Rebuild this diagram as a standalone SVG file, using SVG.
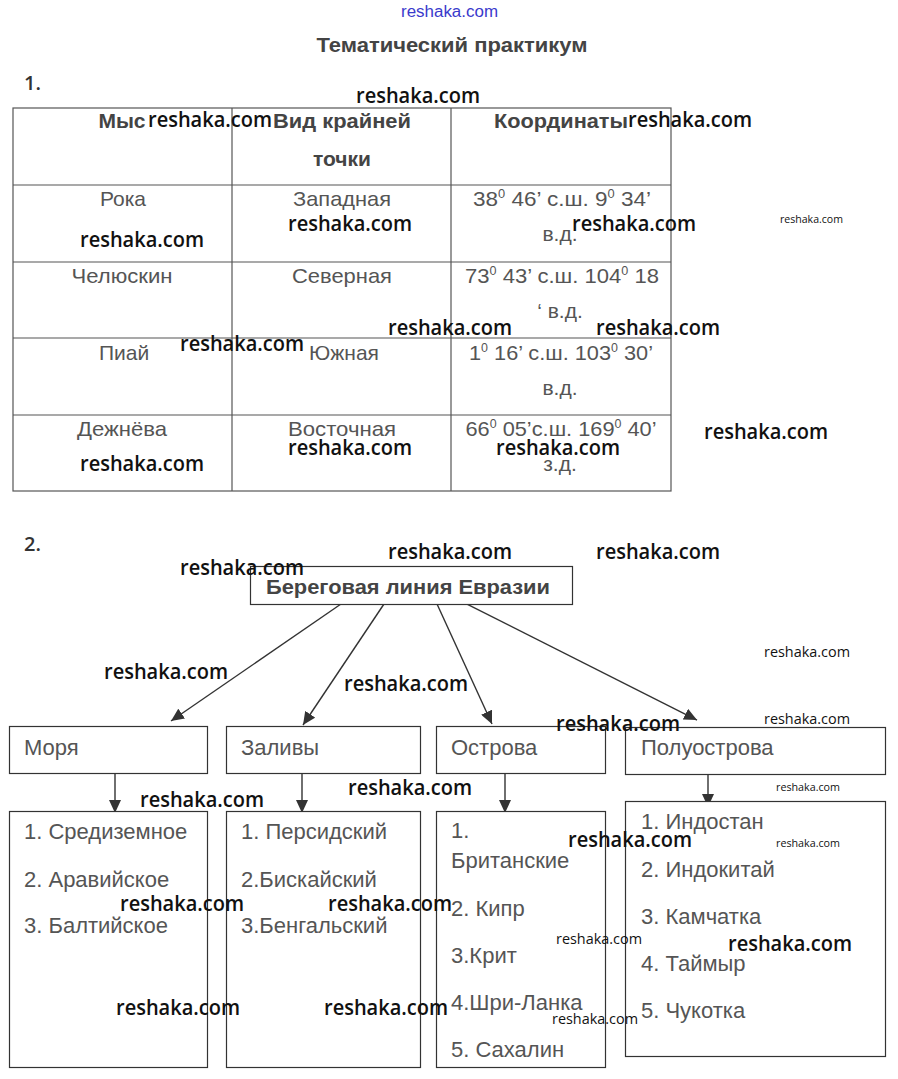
<svg xmlns="http://www.w3.org/2000/svg" width="898" height="1079" viewBox="0 0 898 1079">
<defs>
<marker id="ah" markerUnits="userSpaceOnUse" markerWidth="14" markerHeight="12" refX="13" refY="6" orient="auto">
<path d="M0,0 L13,6 L0,12 Z" fill="#333"/>
</marker>
<style>
.t{font-family:"Liberation Sans",Arial,sans-serif;font-size:21px;fill:#555}
.th{font-family:"Liberation Sans",Arial,sans-serif;font-size:21px;font-weight:bold;fill:#444}
.c{text-anchor:middle}
.sup{font-size:12px}
.d{font-family:"Liberation Sans",Arial,sans-serif;font-size:22px;fill:#555}
.box{fill:#fff;stroke:#333;stroke-width:1.2}
.grid{stroke:#555;stroke-width:1.2;fill:none}
.con{stroke:#333;stroke-width:1.4;fill:none;marker-end:url(#ah)}
.w{font-family:"Open Sans","Noto Sans",sans-serif;font-size:21px;font-weight:600;fill:#111}
.ws{font-family:"Open Sans","Noto Sans",sans-serif;font-size:14px;font-weight:500;fill:#111}
.wx{font-family:"Open Sans","Noto Sans",sans-serif;font-size:11px;font-weight:500;fill:#111}
.num{font-family:"Open Sans","Noto Sans",sans-serif;font-size:20px;font-weight:600;fill:#333}
</style>
</defs>
<rect width="898" height="1079" fill="#fff"/>

<text x="401" y="17" font-family="Liberation Sans,Arial,sans-serif" font-size="16" fill="#3a3acc" textLength="97" lengthAdjust="spacingAndGlyphs">reshaka.com</text>
<text x="452" y="52" class="th c" fill="#333" textLength="271" lengthAdjust="spacingAndGlyphs">Тематический практикум</text>
<text x="24" y="90" class="num">1.</text>

<!-- table -->
<g id="table">
<rect x="13" y="108" width="658" height="383" class="grid"/>
<line x1="232" y1="108" x2="232" y2="491" class="grid"/>
<line x1="451" y1="108" x2="451" y2="491" class="grid"/>
<line x1="13" y1="185" x2="671" y2="185" class="grid"/>
<line x1="13" y1="262" x2="671" y2="262" class="grid"/>
<line x1="13" y1="338" x2="671" y2="338" class="grid"/>
<line x1="13" y1="415" x2="671" y2="415" class="grid"/>

<text x="122" y="128" class="th c">Мыс</text>
<text x="342" y="128" class="th c" textLength="138" lengthAdjust="spacingAndGlyphs">Вид крайней</text>
<text x="342" y="166" class="th c">точки</text>
<text x="561" y="128" class="th c" textLength="134" lengthAdjust="spacingAndGlyphs">Координаты</text>

<text x="123" y="206" class="t c">Рока</text>
<text x="342" y="206" class="t c" textLength="98" lengthAdjust="spacingAndGlyphs">Западная</text>
<text x="562" y="206" class="t c" textLength="178" lengthAdjust="spacingAndGlyphs">38<tspan class="sup" dy="-8">0</tspan><tspan dy="8"> 46’ с.ш. 9</tspan><tspan class="sup" dy="-8">0</tspan><tspan dy="8"> 34’</tspan></text>
<text x="560" y="241" class="t c">в.д.</text>

<text x="122" y="283" class="t c" textLength="101" lengthAdjust="spacingAndGlyphs">Челюскин</text>
<text x="342" y="283" class="t c" textLength="100" lengthAdjust="spacingAndGlyphs">Северная</text>
<text x="562" y="283" class="t c" textLength="194" lengthAdjust="spacingAndGlyphs">73<tspan class="sup" dy="-8">0</tspan><tspan dy="8"> 43’ с.ш. 104</tspan><tspan class="sup" dy="-8">0</tspan><tspan dy="8"> 18</tspan></text>
<text x="560" y="318" class="t c">‘ в.д.</text>

<text x="124" y="360" class="t c">Пиай</text>
<text x="344" y="360" class="t c">Южная</text>
<text x="561" y="360" class="t c" textLength="184" lengthAdjust="spacingAndGlyphs">1<tspan class="sup" dy="-8">0</tspan><tspan dy="8"> 16’ с.ш. 103</tspan><tspan class="sup" dy="-8">0</tspan><tspan dy="8"> 30’</tspan></text>
<text x="560" y="395" class="t c">в.д.</text>

<text x="122" y="436" class="t c" textLength="90" lengthAdjust="spacingAndGlyphs">Дежнёва</text>
<text x="342" y="436" class="t c" textLength="108" lengthAdjust="spacingAndGlyphs">Восточная</text>
<text x="561" y="436" class="t c" textLength="191" lengthAdjust="spacingAndGlyphs">66<tspan class="sup" dy="-8">0</tspan><tspan dy="8"> 05’с.ш. 169</tspan><tspan class="sup" dy="-8">0</tspan><tspan dy="8"> 40’</tspan></text>
<text x="560" y="471" class="t c">з.д.</text>
</g>

<text x="24" y="551" class="num">2.</text>

<!-- connectors -->
<g id="connectors">
<line x1="341" y1="604" x2="171" y2="721" class="con"/>
<line x1="384" y1="604" x2="303" y2="725" class="con"/>
<line x1="437" y1="604" x2="492" y2="724" class="con"/>
<line x1="467" y1="604" x2="697" y2="720" class="con"/>
<line x1="115" y1="773" x2="115" y2="813" class="con"/>
<line x1="302" y1="773" x2="302" y2="813" class="con"/>
<line x1="505" y1="773" x2="505" y2="813" class="con"/>
<line x1="708" y1="774" x2="708" y2="807" class="con"/>
</g>

<g id="root">
<rect x="250.5" y="566.5" width="322" height="38" class="box"/>
<text x="408" y="594" class="th c" textLength="284" lengthAdjust="spacingAndGlyphs">Береговая линия Евразии</text>
</g>

<g id="seas">
<rect x="9.5" y="726.5" width="198" height="47" class="box"/>
<text x="24" y="755" class="d">Моря</text>
</g>
<g id="gulfs">
<rect x="226.5" y="726.5" width="194" height="47" class="box"/>
<text x="241" y="755" class="d">Заливы</text>
</g>
<g id="islands">
<rect x="436.5" y="726.5" width="169" height="47" class="box"/>
<text x="451" y="755" class="d">Острова</text>
</g>
<g id="peninsulas">
<rect x="625.5" y="727.5" width="260" height="47" class="box"/>
<text x="641" y="755" class="d">Полуострова</text>
</g>

<g id="seas-list">
<rect x="9.5" y="811.5" width="198" height="256" class="box"/>
<text x="24" y="839" class="d">1. Средиземное</text>
<text x="24" y="887" class="d">2. Аравийское</text>
<text x="24" y="933" class="d">3. Балтийское</text>
</g>
<g id="gulfs-list">
<rect x="226.5" y="811.5" width="194" height="256" class="box"/>
<text x="241" y="839" class="d">1. Персидский</text>
<text x="241" y="887" class="d">2.Бискайский</text>
<text x="241" y="933" class="d">3.Бенгальский</text>
</g>
<g id="islands-list">
<rect x="436.5" y="811.5" width="169" height="256" class="box"/>
<text x="451" y="838" class="d">1.</text>
<text x="451" y="868" class="d">Британские</text>
<text x="451" y="916" class="d">2. Кипр</text>
<text x="451" y="963" class="d">3.Крит</text>
<text x="451" y="1010" class="d">4.Шри-Ланка</text>
<text x="451" y="1057" class="d">5. Сахалин</text>
</g>
<g id="peninsulas-list">
<rect x="625.5" y="801.5" width="260" height="255" class="box"/>
<text x="641" y="829" class="d">1. Индостан</text>
<text x="641" y="877" class="d">2. Индокитай</text>
<text x="641" y="924" class="d">3. Камчатка</text>
<text x="641" y="971" class="d">4. Таймыр</text>
<text x="641" y="1018" class="d">5. Чукотка</text>
</g>

<!-- watermarks -->
<g id="watermarks">
<text x="356" y="103" class="w" textLength="124" lengthAdjust="spacingAndGlyphs">reshaka.com</text>
<text x="148" y="127" class="w" textLength="124" lengthAdjust="spacingAndGlyphs">reshaka.com</text>
<text x="628" y="127" class="w" textLength="124" lengthAdjust="spacingAndGlyphs">reshaka.com</text>
<text x="780" y="223" class="wx" textLength="63" lengthAdjust="spacingAndGlyphs">reshaka.com</text>
<text x="80" y="247" class="w" textLength="124" lengthAdjust="spacingAndGlyphs">reshaka.com</text>
<text x="288" y="231" class="w" textLength="124" lengthAdjust="spacingAndGlyphs">reshaka.com</text>
<text x="572" y="231" class="w" textLength="124" lengthAdjust="spacingAndGlyphs">reshaka.com</text>
<text x="388" y="335" class="w" textLength="124" lengthAdjust="spacingAndGlyphs">reshaka.com</text>
<text x="596" y="335" class="w" textLength="124" lengthAdjust="spacingAndGlyphs">reshaka.com</text>
<text x="180" y="351" class="w" textLength="124" lengthAdjust="spacingAndGlyphs">reshaka.com</text>
<text x="704" y="439" class="w" textLength="124" lengthAdjust="spacingAndGlyphs">reshaka.com</text>
<text x="80" y="471" class="w" textLength="124" lengthAdjust="spacingAndGlyphs">reshaka.com</text>
<text x="288" y="455" class="w" textLength="124" lengthAdjust="spacingAndGlyphs">reshaka.com</text>
<text x="496" y="455" class="w" textLength="124" lengthAdjust="spacingAndGlyphs">reshaka.com</text>
<text x="388" y="559" class="w" textLength="124" lengthAdjust="spacingAndGlyphs">reshaka.com</text>
<text x="596" y="559" class="w" textLength="124" lengthAdjust="spacingAndGlyphs">reshaka.com</text>
<text x="180" y="575" class="w" textLength="124" lengthAdjust="spacingAndGlyphs">reshaka.com</text>
<text x="104" y="679" class="w" textLength="124" lengthAdjust="spacingAndGlyphs">reshaka.com</text>
<text x="764" y="657" class="ws" textLength="86" lengthAdjust="spacingAndGlyphs">reshaka.com</text>
<text x="344" y="691" class="w" textLength="124" lengthAdjust="spacingAndGlyphs">reshaka.com</text>
<text x="556" y="731" class="w" textLength="124" lengthAdjust="spacingAndGlyphs">reshaka.com</text>
<text x="764" y="724" class="ws" textLength="86" lengthAdjust="spacingAndGlyphs">reshaka.com</text>
<text x="140" y="807" class="w" textLength="124" lengthAdjust="spacingAndGlyphs">reshaka.com</text>
<text x="348" y="795" class="w" textLength="124" lengthAdjust="spacingAndGlyphs">reshaka.com</text>
<text x="776" y="791" class="wx" textLength="64" lengthAdjust="spacingAndGlyphs">reshaka.com</text>
<text x="568" y="847" class="w" textLength="124" lengthAdjust="spacingAndGlyphs">reshaka.com</text>
<text x="776" y="847" class="wx" textLength="64" lengthAdjust="spacingAndGlyphs">reshaka.com</text>
<text x="120" y="911" class="w" textLength="124" lengthAdjust="spacingAndGlyphs">reshaka.com</text>
<text x="328" y="911" class="w" textLength="124" lengthAdjust="spacingAndGlyphs">reshaka.com</text>
<text x="556" y="944" class="ws" textLength="86" lengthAdjust="spacingAndGlyphs">reshaka.com</text>
<text x="728" y="951" class="w" textLength="124" lengthAdjust="spacingAndGlyphs">reshaka.com</text>
<text x="116" y="1015" class="w" textLength="124" lengthAdjust="spacingAndGlyphs">reshaka.com</text>
<text x="324" y="1015" class="w" textLength="124" lengthAdjust="spacingAndGlyphs">reshaka.com</text>
<text x="552" y="1024" class="ws" textLength="86" lengthAdjust="spacingAndGlyphs">reshaka.com</text>
</g>
</svg>
